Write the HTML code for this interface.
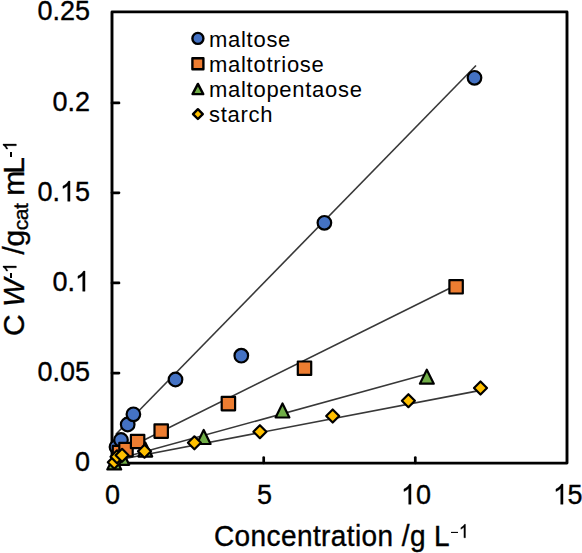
<!DOCTYPE html>
<html><head><meta charset="utf-8">
<style>
html,body{margin:0;padding:0;background:#fff;}
body{width:582px;height:553px;position:relative;overflow:hidden;font-family:"Liberation Sans",sans-serif;color:#000;}
svg.main{position:absolute;left:0;top:0;}
.mn{display:inline-block;width:0.5em;height:0;position:relative;}
.mn::before{content:'';position:absolute;left:0.08em;width:0.37em;bottom:0.23em;height:0.085em;background:#000;}
.mny{display:inline-block;width:0.34em;height:0;position:relative;}
.mny::before{content:'';position:absolute;left:0.03em;width:0.28em;bottom:0.23em;height:0.085em;background:#000;}
.one{display:inline-block;width:0.556em;height:0.7158em;position:relative;}
.one svg{position:absolute;left:0;top:0;width:100%;height:100%;overflow:visible;}
.t{position:absolute;white-space:nowrap;line-height:1;-webkit-text-stroke:0.35px #000;}
.yl{font-size:27px;right:492px;text-align:right;transform-origin:0 22.9px;transform:scaleY(1.045);}
.xl{font-size:27px;top:481.5px;transform-origin:0 22.9px;transform:scaleY(1.045);}
.lg{font-size:22px;left:209px;letter-spacing:0.72px;-webkit-text-stroke:0;}
.sp{font-size:0.62em;position:relative;top:-0.44em;vertical-align:baseline;}
.sb{font-size:0.7em;position:relative;top:0.18em;vertical-align:baseline;}
</style></head><body>
<div id="wrap" style="position:absolute;left:0;top:0;width:582px;height:553px">
<svg class="main" width="582" height="553" viewBox="0 0 582 553">
<rect x="112" y="11.9" width="455" height="451.2" fill="none" stroke="#000" stroke-width="2.9" stroke-linejoin="round"/>
<line x1="112" y1="373.1" x2="119" y2="373.1" stroke="#000" stroke-width="2.7" stroke-linecap="round"/>
<line x1="112" y1="282.9" x2="119" y2="282.9" stroke="#000" stroke-width="2.7" stroke-linecap="round"/>
<line x1="112" y1="192.8" x2="119" y2="192.8" stroke="#000" stroke-width="2.7" stroke-linecap="round"/>
<line x1="112" y1="102.9" x2="119" y2="102.9" stroke="#000" stroke-width="2.7" stroke-linecap="round"/>
<line x1="263.7" y1="463" x2="263.7" y2="457.5" stroke="#000" stroke-width="2.7" stroke-linecap="round"/>
<line x1="415.3" y1="463" x2="415.3" y2="457.5" stroke="#000" stroke-width="2.7" stroke-linecap="round"/>
<line x1="115.9" y1="434.3" x2="476.0" y2="65.5" stroke="#383838" stroke-width="1.6"/>
<line x1="113.5" y1="455.2" x2="456.3" y2="285.0" stroke="#383838" stroke-width="1.6"/>
<line x1="114.1" y1="460.0" x2="426.9" y2="374.1" stroke="#383838" stroke-width="1.6"/>
<line x1="113.5" y1="460.7" x2="480.5" y2="390.4" stroke="#383838" stroke-width="1.6"/>
<circle cx="116.5" cy="447.0" r="6.8" fill="#4472C4" stroke="#000" stroke-width="2.2"/>
<circle cx="121.0" cy="440.0" r="6.8" fill="#4472C4" stroke="#000" stroke-width="2.2"/>
<circle cx="127.7" cy="424.5" r="6.8" fill="#4472C4" stroke="#000" stroke-width="2.2"/>
<circle cx="133.4" cy="414.3" r="6.8" fill="#4472C4" stroke="#000" stroke-width="2.2"/>
<circle cx="175.5" cy="379.5" r="6.8" fill="#4472C4" stroke="#000" stroke-width="2.2"/>
<circle cx="241.3" cy="355.7" r="6.8" fill="#4472C4" stroke="#000" stroke-width="2.2"/>
<circle cx="324.4" cy="222.8" r="6.8" fill="#4472C4" stroke="#000" stroke-width="2.2"/>
<circle cx="474.5" cy="77.8" r="6.8" fill="#4472C4" stroke="#000" stroke-width="2.2"/>
<rect x="112.8" y="445.8" width="13.4" height="13.4" fill="#ED7D31" stroke="#000" stroke-width="2.2" stroke-linejoin="round"/>
<rect x="119.3" y="442.9" width="13.4" height="13.4" fill="#ED7D31" stroke="#000" stroke-width="2.2" stroke-linejoin="round"/>
<rect x="130.9" y="434.8" width="13.4" height="13.4" fill="#ED7D31" stroke="#000" stroke-width="2.2" stroke-linejoin="round"/>
<rect x="154.5" y="424.4" width="13.4" height="13.4" fill="#ED7D31" stroke="#000" stroke-width="2.2" stroke-linejoin="round"/>
<rect x="221.7" y="396.9" width="13.4" height="13.4" fill="#ED7D31" stroke="#000" stroke-width="2.2" stroke-linejoin="round"/>
<rect x="297.8" y="361.5" width="13.4" height="13.4" fill="#ED7D31" stroke="#000" stroke-width="2.2" stroke-linejoin="round"/>
<rect x="449.4" y="280.1" width="13.4" height="13.4" fill="#ED7D31" stroke="#000" stroke-width="2.2" stroke-linejoin="round"/>
<polygon points="114.3,455.4 121.2,469.4 107.3,469.4" fill="#70AD47" stroke="#000" stroke-width="2.2" stroke-linejoin="round"/>
<polygon points="122.3,450.8 129.2,464.8 115.3,464.8" fill="#70AD47" stroke="#000" stroke-width="2.2" stroke-linejoin="round"/>
<polygon points="145.3,442.6 152.2,456.6 138.4,456.6" fill="#70AD47" stroke="#000" stroke-width="2.2" stroke-linejoin="round"/>
<polygon points="203.7,430.0 210.6,444.0 196.8,444.0" fill="#70AD47" stroke="#000" stroke-width="2.2" stroke-linejoin="round"/>
<polygon points="282.5,403.5 289.4,417.5 275.6,417.5" fill="#70AD47" stroke="#000" stroke-width="2.2" stroke-linejoin="round"/>
<polygon points="426.8,369.7 433.8,383.7 419.9,383.7" fill="#70AD47" stroke="#000" stroke-width="2.2" stroke-linejoin="round"/>
<polygon points="114.3,455.8 120.8,462.3 114.3,468.8 107.8,462.3" fill="#FFC000" stroke="#000" stroke-width="2.2" stroke-linejoin="round"/>
<polygon points="117.0,450.3 123.5,456.8 117.0,463.3 110.5,456.8" fill="#FFC000" stroke="#000" stroke-width="2.2" stroke-linejoin="round"/>
<polygon points="122.1,448.8 128.6,455.3 122.1,461.8 115.6,455.3" fill="#FFC000" stroke="#000" stroke-width="2.2" stroke-linejoin="round"/>
<polygon points="144.5,444.7 151.0,451.2 144.5,457.7 138.0,451.2" fill="#FFC000" stroke="#000" stroke-width="2.2" stroke-linejoin="round"/>
<polygon points="194.4,436.3 200.9,442.8 194.4,449.3 187.9,442.8" fill="#FFC000" stroke="#000" stroke-width="2.2" stroke-linejoin="round"/>
<polygon points="259.9,425.2 266.4,431.7 259.9,438.2 253.4,431.7" fill="#FFC000" stroke="#000" stroke-width="2.2" stroke-linejoin="round"/>
<polygon points="332.7,409.5 339.2,416.0 332.7,422.5 326.2,416.0" fill="#FFC000" stroke="#000" stroke-width="2.2" stroke-linejoin="round"/>
<polygon points="408.4,394.2 414.9,400.7 408.4,407.2 401.9,400.7" fill="#FFC000" stroke="#000" stroke-width="2.2" stroke-linejoin="round"/>
<polygon points="480.5,381.5 487.0,388.0 480.5,394.5 474.0,388.0" fill="#FFC000" stroke="#000" stroke-width="2.2" stroke-linejoin="round"/>
<circle cx="197.9" cy="38.4" r="5.5" fill="#4472C4" stroke="#000" stroke-width="2.4"/>
<rect x="192.4" y="58.2" width="11" height="11" fill="#ED7D31" stroke="#000" stroke-width="2.4" stroke-linejoin="round"/>
<polygon points="197.9,83.9 203.25,94.1 192.55,94.1" fill="#70AD47" stroke="#000" stroke-width="2.4" stroke-linejoin="round"/>
<polygon points="197.9,109.19999999999999 202.8,114.1 197.9,119.0 193.0,114.1" fill="#FFC000" stroke="#000" stroke-width="2.4" stroke-linejoin="round"/>
</svg>
<div class="t yl" style="top:-2px">0.25</div>
<div class="t yl" style="top:89px">0.2</div>
<div class="t yl" style="top:179px">0.<span class="one"><svg viewBox="0 0 1139 1466" preserveAspectRatio="none"><path transform="translate(0,1466) scale(1,-1)" d="M763 0H583V1147Q518 1085 412 1023Q307 961 222 930V1104Q373 1175 486 1276Q599 1377 646 1466H763Z" fill="#000" stroke="#000" stroke-width="0.35" vector-effect="non-scaling-stroke"/></svg></span>5</div>
<div class="t yl" style="top:269px">0.<span class="one"><svg viewBox="0 0 1139 1466" preserveAspectRatio="none"><path transform="translate(0,1466) scale(1,-1)" d="M763 0H583V1147Q518 1085 412 1023Q307 961 222 930V1104Q373 1175 486 1276Q599 1377 646 1466H763Z" fill="#000" stroke="#000" stroke-width="0.35" vector-effect="non-scaling-stroke"/></svg></span></div>
<div class="t yl" style="top:359px">0.05</div>
<div class="t yl" style="top:449px">0</div>
<div class="t xl" style="left:105px">0</div>
<div class="t xl" style="left:257px">5</div>
<div class="t xl" style="left:401px"><span class="one"><svg viewBox="0 0 1139 1466" preserveAspectRatio="none"><path transform="translate(0,1466) scale(1,-1)" d="M763 0H583V1147Q518 1085 412 1023Q307 961 222 930V1104Q373 1175 486 1276Q599 1377 646 1466H763Z" fill="#000" stroke="#000" stroke-width="0.35" vector-effect="non-scaling-stroke"/></svg></span>0</div>
<div class="t xl" style="left:552.6px"><span class="one"><svg viewBox="0 0 1139 1466" preserveAspectRatio="none"><path transform="translate(0,1466) scale(1,-1)" d="M763 0H583V1147Q518 1085 412 1023Q307 961 222 930V1104Q373 1175 486 1276Q599 1377 646 1466H763Z" fill="#000" stroke="#000" stroke-width="0.35" vector-effect="non-scaling-stroke"/></svg></span>5</div>
<div class="t lg" style="top:28.5px">maltose</div>
<div class="t lg" style="top:53.5px">maltotriose</div>
<div class="t lg" style="top:78.5px">maltopentaose</div>
<div class="t lg" style="top:103.5px">starch</div>
<div class="t" id="xt" style="font-size:28px;left:214px;top:522.5px;letter-spacing:0.4px;transform-origin:0 24px;transform:scaleY(1.08)">Concentration /g L<span class="sp"><span class="mn"></span><span class="one"><svg viewBox="0 0 1139 1466" preserveAspectRatio="none"><path transform="translate(0,1466) scale(1,-1)" d="M763 0H583V1147Q518 1085 412 1023Q307 961 222 930V1104Q373 1175 486 1276Q599 1377 646 1466H763Z" fill="#000" stroke="#000" stroke-width="0.35" vector-effect="non-scaling-stroke"/></svg></span></span></div>
<div class="t" id="yt" style="font-size:30px;left:0px;top:0px;transform-origin:0 0;transform:translate(-1px,336px) rotate(-90deg);letter-spacing:-0.45px">C <i>W</i><span class="sp"><span class="mny"></span><span class="one"><svg viewBox="0 0 1139 1466" preserveAspectRatio="none"><path transform="translate(0,1466) scale(1,-1)" d="M763 0H583V1147Q518 1085 412 1023Q307 961 222 930V1104Q373 1175 486 1276Q599 1377 646 1466H763Z" fill="#000" stroke="#000" stroke-width="0.35" vector-effect="non-scaling-stroke"/></svg></span></span> /g<span class="sb">cat</span> m<span style="margin-left:-2.5px">L</span><span class="sp"><span class="mny"></span><span class="one"><svg viewBox="0 0 1139 1466" preserveAspectRatio="none"><path transform="translate(0,1466) scale(1,-1)" d="M763 0H583V1147Q518 1085 412 1023Q307 961 222 930V1104Q373 1175 486 1276Q599 1377 646 1466H763Z" fill="#000" stroke="#000" stroke-width="0.35" vector-effect="non-scaling-stroke"/></svg></span></span></div>
</div>
</body></html>
